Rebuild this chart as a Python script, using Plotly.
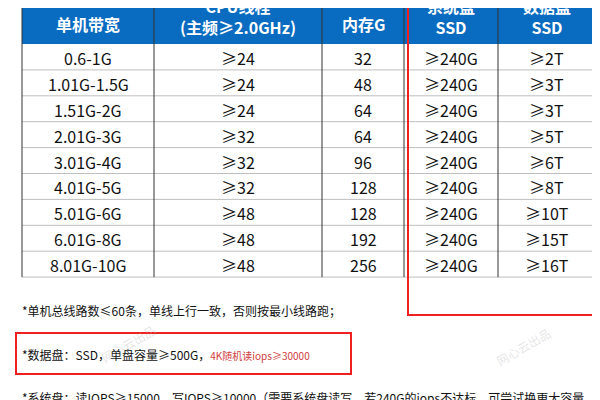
import plotly.graph_objects as go

# table contents
headers = ["<b>单机带宽</b>", "<b>CPU线程<br>(主频≥2.0GHz)</b>", "<b>内存G</b>", "<b>系统盘<br>SSD</b>", "<b>数据盘<br>SSD</b>"]
bandwidth = ["0.6-1G", "1.01G-1.5G", "1.51G-2G", "2.01G-3G", "3.01G-4G",
             "4.01G-5G", "5.01G-6G", "6.01G-8G", "8.01G-10G"]
cpu = ["≥24", "≥24", "≥24", "≥32", "≥32", "≥32", "≥48", "≥48", "≥48"]
memory = [32, 48, 64, 64, 96, 128, 128, 192, 256]
sys_disk = ["≥240G"] * 9
data_disk = ["≥2T", "≥3T", "≥3T", "≥5T", "≥6T", "≥8T", "≥10T", "≥15T", "≥16T"]
notes = ["*单机总线路数≤60条，单线上行一致，否则按最小线路跑；",
         "*数据盘：SSD，单盘容量≥500G，",
         "*系统盘：读IOPS≥15000，写IOPS≥10000（需要系统盘读写，若240G的iops不达标，可尝试换更大容量"]

col_edges = [14, 146, 314, 396, 490, 587]
header_top, header_bot = -14, 36
row_h = 25.9
font = "Noto Sans CJK SC"

fig = go.Figure()
shapes, ann = [], []
shapes.append(dict(type="rect", x0=col_edges[0], x1=col_edges[-1], y0=header_top, y1=header_bot,
                   fillcolor="#0A6CC0", line=dict(width=0), layer="below"))
for i, h in enumerate(headers):
    cx = (col_edges[i] + col_edges[i + 1]) / 2
    cy = 16 if i in (0, 2) else 8
    ann.append(dict(x=cx, y=cy, text=h, showarrow=False,
                    font=dict(family=font, size=16, color="white")))
columns = [bandwidth, cpu, memory, sys_disk, data_disk]
n = len(bandwidth)
for r in range(n):
    y0 = header_bot + r * row_h
    shapes.append(dict(type="line", x0=col_edges[0], x1=col_edges[-1], y0=y0 + row_h, y1=y0 + row_h,
                       line=dict(color="#BFBFBF", width=1)))
    for c, col in enumerate(columns):
        ann.append(dict(x=(col_edges[c] + col_edges[c + 1]) / 2, y=y0 + row_h / 2 + 1, text=str(col[r]),
                        showarrow=False, font=dict(family=font, size=16, color="#111")))
table_bot = header_bot + n * row_h
for x in col_edges:
    shapes.append(dict(type="line", x0=x, x1=x, y0=header_top, y1=table_bot,
                       line=dict(color="#333", width=1)))

# red highlight boxes
shapes.append(dict(type="rect", x0=400, x1=592, y0=-5, y1=307, line=dict(color="#F02020", width=2)))
shapes.append(dict(type="rect", x0=8, x1=343, y0=325, y1=366, line=dict(color="#F02020", width=2)))

ann.append(dict(x=12, y=302, xanchor="left", text=notes[0], showarrow=False,
                font=dict(family=font, size=12, color="#111")))
ann.append(dict(x=12, y=346, xanchor="left", showarrow=False,
                text=notes[1] + "<span style='color:#D04040;font-size:10px'>4K随机读iops≥30000</span>",
                font=dict(family=font, size=12, color="#111")))
ann.append(dict(x=12, y=389, xanchor="left", text=notes[2], showarrow=False,
                font=dict(family=font, size=12, color="#111")))
# watermarks
for wx, wy in [(120, 335), (515, 338)]:
    ann.append(dict(x=wx, y=wy, text="网心云出品", showarrow=False, textangle=-30,
                    font=dict(family=font, size=12, color="rgba(180,180,180,0.35)")))

fig.update_layout(width=600, height=400, margin=dict(l=0, r=0, t=0, b=0),
                  paper_bgcolor="white", plot_bgcolor="white", showlegend=False,
                  shapes=shapes, annotations=ann,
                  xaxis=dict(range=[0, 600], visible=False, fixedrange=True),
                  yaxis=dict(range=[400, 0], visible=False, fixedrange=True))
fig.write_html("out.html")
